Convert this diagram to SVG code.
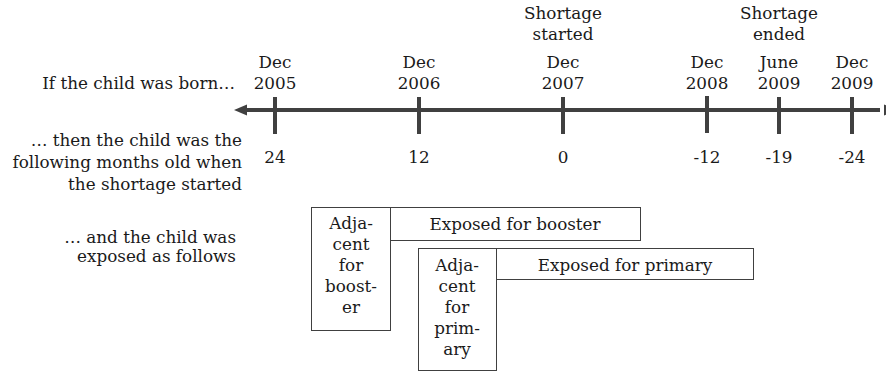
<svg xmlns="http://www.w3.org/2000/svg" width="886" height="371" viewBox="0 0 886 371">
<style>
text{font-family:"DejaVu Serif","Liberation Serif",serif;font-size:16.8px;fill:#1a1a1a;}
.m{text-anchor:middle;}
.r{text-anchor:end;}
.axis{stroke:#404040;stroke-width:4;fill:none;}
.tick{stroke:#404040;stroke-width:4;}
.box{fill:#fff;stroke:#404040;stroke-width:1;}
</style>
<g id="labels">
<text class="r" x="235" y="89">If the child was born…</text>
<text class="r" x="242" y="146">… then the child was the</text>
<text class="r" x="242" y="168">following months old when</text>
<text class="r" x="242" y="190">the shortage started</text>
<text class="r" x="236" y="243">… and the child was</text>
<text class="r" x="236" y="262">exposed as follows</text>
</g>
<g id="connectors">
<line class="axis" x1="244" y1="110" x2="880" y2="110"/>
<polygon points="234,110 247,104.5 247,115.5" fill="#404040"/>
<polygon points="884,104.5 897,110 884,115.5" fill="#404040"/>
<line class="tick" x1="275" y1="97" x2="275" y2="134"/>
<line class="tick" x1="419" y1="97" x2="419" y2="134"/>
<line class="tick" x1="563" y1="97" x2="563" y2="134"/>
<line class="tick" x1="707" y1="96" x2="707" y2="133"/>
<line class="tick" x1="779" y1="97" x2="779" y2="134"/>
<line class="tick" x1="852" y1="97" x2="852" y2="134"/>
</g>
<g id="t2005"><text class="m" x="275" y="68">Dec</text><text class="m" x="275" y="89">2005</text><text class="m" x="275" y="163">24</text></g>
<g id="t2006"><text class="m" x="419" y="68">Dec</text><text class="m" x="419" y="89">2006</text><text class="m" x="419" y="163">12</text></g>
<g id="t2007"><text class="m" x="563" y="19">Shortage</text><text class="m" x="563" y="40">started</text><text class="m" x="563" y="68">Dec</text><text class="m" x="563" y="89">2007</text><text class="m" x="563" y="163">0</text></g>
<g id="t2008"><text class="m" x="707" y="68">Dec</text><text class="m" x="707" y="89">2008</text><text class="m" x="707" y="163">-12</text></g>
<g id="t2009june"><text class="m" x="779" y="19">Shortage</text><text class="m" x="779" y="40">ended</text><text class="m" x="779" y="68">June</text><text class="m" x="779" y="89">2009</text><text class="m" x="779" y="163">-19</text></g>
<g id="t2009"><text class="m" x="852" y="68">Dec</text><text class="m" x="852" y="89">2009</text><text class="m" x="852" y="163">-24</text></g>
<g id="exposedBooster"><rect class="box" x="390.5" y="207.5" width="250" height="33"/><text class="m" x="515" y="230">Exposed for booster</text></g>
<g id="adjBooster"><rect class="box" x="311.5" y="207.5" width="79" height="123"/>
<text class="m" x="351" y="229">Adja-</text><text class="m" x="351" y="250">cent</text><text class="m" x="351" y="271">for</text><text class="m" x="351" y="292">boost-</text><text class="m" x="351" y="313">er</text></g>
<g id="exposedPrimary"><rect class="box" x="496.5" y="248.5" width="257" height="31"/><text class="m" x="625" y="271">Exposed for primary</text></g>
<g id="adjPrimary"><rect class="box" x="418.5" y="248.5" width="78" height="122"/>
<text class="m" x="457" y="271">Adja-</text><text class="m" x="457" y="292">cent</text><text class="m" x="457" y="313">for</text><text class="m" x="457" y="334">prim-</text><text class="m" x="457" y="355">ary</text></g>
</svg>
